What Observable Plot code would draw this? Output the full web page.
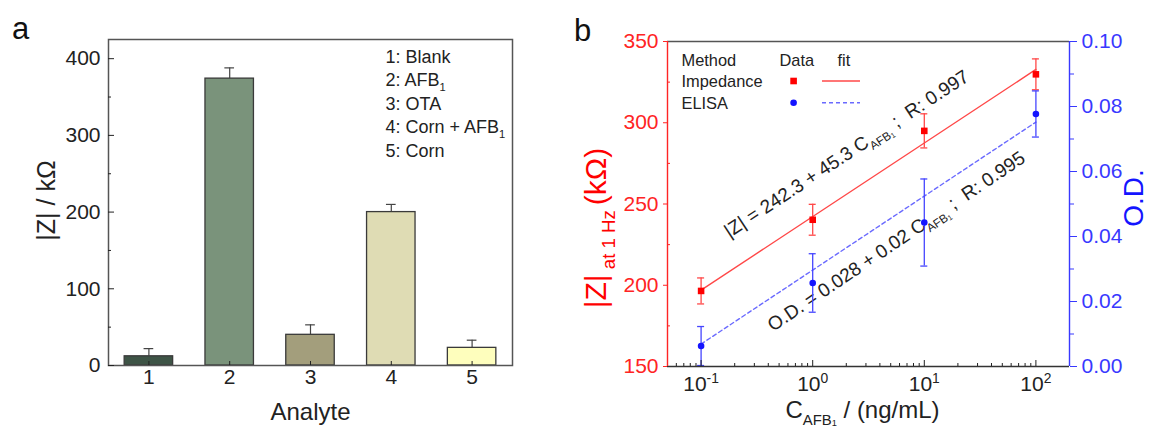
<!DOCTYPE html>
<html>
<head>
<meta charset="utf-8">
<script src="https://cdn.jsdelivr.net/npm/d3@7"></script>
<script src="https://cdn.jsdelivr.net/npm/@observablehq/plot@0.6"></script>
<style>
  html, body { margin: 0; padding: 0; background: #fff; }
  #wrap { display: flex; width: 1151px; height: 428px; overflow: hidden; }
  #wrap svg { flex: none; overflow: visible; }
</style>
</head>
<body>
<div id="wrap"></div>
<script>
// ---------- Panel a data ----------
const analytes = [1, 2, 3, 4, 5];
const analyteNames = ["1: Blank", "2: AFB_{1}", "3: OTA", "4: Corn + AFB_{1}", "5: Corn"];
const impedanceA = [12, 374, 40, 200, 23];
const errorA = [10, 14, 13, 10, 10];
const barColors = ["#3e5446", "#7a937b", "#a39e7c", "#dfdcb4", "#fefebd"];
const yTicksA = [0, 100, 200, 300, 400];
const yMinorA = [50, 150, 250, 350];
const yDomainA = [0, 425];
const xLabelA = "Analyte";
const yLabelA = "|Z| / kΩ";

// ---------- Panel b data ----------
const conc = [0.1, 1, 10, 100];
const zImp = [196.5, 240.3, 295, 329.8];
const zErr = [8, 9.5, 10.5, 9.5];
const od = [0.0063, 0.0257, 0.0443, 0.0777];
const odErr = [0.006, 0.009, 0.0134, 0.0071];
const fitConc = [0.1, 100];
const fitZ = [197.0, 332.8];
const fitOD = [0.0069, 0.0752];
const xTicksB = [0.1, 1, 10, 100];
const zTicks = [150, 200, 250, 300, 350];
const zMinor = [175, 225, 275, 325];
const odTicks = [0, 0.02, 0.04, 0.06, 0.08, 0.10];
const odMinor = [0.01, 0.03, 0.05, 0.07, 0.09];
const xDomainB = [0.05, 200];
const zDomain = [150, 350];
const odDomain = [0, 0.10];
const xLabelB = "C_{AFB_{1}} / (ng/mL)";
const yLabelB = "|Z|_{ at 1 Hz }(kΩ)";
const y2LabelB = "O.D.";
const eq1 = "|Z| = 242.3 + 45.3 C_{AFB_{1}} ;  R: 0.997";
const eq2 = "O.D. = 0.028 + 0.02 C_{AFB_{1}} ;  R: 0.995";
const legendHeader = ["Method", "Data", "fit"];
const legendMethods = ["Impedance", "ELISA"];

const FONT = '"Liberation Sans", Arial, Helvetica, sans-serif';
const RED = "#ff0000", RED_LINE = "#ff4848", RED_AX = "#ff2424";
const BLUE = "#1414ff", BLUE_LINE = "#6a6aff", BLUE_ERR = "#4646ff", BLUE_AX = "#3838ff";

// map O.D. onto the |Z| scale (secondary axis)
const zOf = v => zDomain[0] + (v - odDomain[0]) * (zDomain[1] - zDomain[0]) / (odDomain[1] - odDomain[0]);
const odOf = z => odDomain[0] + (z - zDomain[0]) * (odDomain[1] - odDomain[0]) / (zDomain[1] - zDomain[0]);

// ---------- Panel a ----------
const tableA = analytes.map((c, i) => ({c, v: impedanceA[i], e: errorA[i], fill: barColors[i]}));
const halfBar = 0.3, halfCapA = 0.06;

const plotA = Plot.plot({
  width: 570, height: 428,
  marginLeft: 108, marginRight: 58, marginTop: 39, marginBottom: 63,
  style: {fontFamily: FONT, fontSize: "21px", background: "white", color: "#222", overflow: "visible"},
  x: {type: "linear", domain: [0.5, 5.5]},
  y: {domain: yDomainA},
  color: {type: "identity"},
  marks: [
    Plot.ruleX(tableA, {x: "c", y1: "v", y2: d => d.v + d.e, stroke: "#444", strokeWidth: 1.2}),
    Plot.ruleY(tableA, {x1: d => d.c - halfCapA, x2: d => d.c + halfCapA, y: d => d.v + d.e, stroke: "#444", strokeWidth: 1.2}),
    Plot.rectY(tableA, {x1: d => d.c - halfBar, x2: d => d.c + halfBar, y1: 0, y2: "v", fill: "fill", stroke: "#3a3a3a", strokeWidth: 1.3}),
    Plot.frame({stroke: "#555", strokeWidth: 1.5}),
    Plot.axisY({ticks: yTicksA, tickSize: -6, tickPadding: 14, label: null, color: "#222"}),
    Plot.axisY({ticks: yMinorA, tickSize: -3, tickFormat: () => "", label: null, color: "#222"}),
    Plot.axisX({ticks: analytes, tickSize: -4, tickPadding: 8, tickFormat: d => String(d), label: null, color: "#222"}),
    Plot.text([xLabelA], {text: d => d, frameAnchor: "bottom", textAnchor: "middle", lineAnchor: "middle", dy: 47, fontSize: 24, fill: "#222"}),
    Plot.text([yLabelA], {text: d => d, frameAnchor: "left", textAnchor: "middle", lineAnchor: "middle", dx: -62, dy: -2, rotate: -90, fontSize: 25, fill: "#222"}),
    Plot.text(["a"], {text: d => d, frameAnchor: "top-left", textAnchor: "middle", lineAnchor: "middle", dx: -88, dy: -10, fontSize: 31, fill: "#111"}),
    ...analyteNames.map((t, i) => Plot.text([t], {text: d => d, frameAnchor: "top-left", lineAnchor: "middle", dx: 277, dy: 17.7 + i * 23.5, textAnchor: "start", fontSize: 18, fill: "#222"}))
  ]
});

// ---------- Panel b ----------
const tableB = conc.map((c, i) => ({c, z: zImp[i], ze: zErr[i], od: od[i], oe: odErr[i]}));
const fitTable = fitConc.map((c, i) => ({c, z: fitZ[i], od: fitOD[i]}));
const capK = 1.075;
const xMinorB = [];
for (const d of [0.01, 0.1, 1, 10, 100]) for (let k = 2; k <= 9; k++) {
  const v = d * k;
  if (v > xDomainB[0] && v < xDomainB[1]) xMinorB.push(v);
}

const plotB = Plot.plot({
  width: 581, height: 428,
  marginLeft: 97, marginRight: 82, marginTop: 41, marginBottom: 62,
  style: {fontFamily: FONT, fontSize: "21px", background: "white", color: "#222", overflow: "visible"},
  x: {type: "log", domain: xDomainB},
  y: {domain: zDomain},
  marks: [
    Plot.line(fitTable, {x: "c", y: "z", stroke: RED_LINE, strokeWidth: 1.4}),
    Plot.line(fitTable, {x: "c", y: d => zOf(d.od), stroke: BLUE_LINE, strokeWidth: 1.4, strokeDasharray: "4,3"}),
    Plot.text([eq1], {text: d => d, x: 2.01, y: 280.8, rotate: -33.3, textAnchor: "middle", fontSize: 19, fill: "#222"}),
    Plot.text([eq2], {text: d => d, x: 5.62, y: 226.9, rotate: -34, textAnchor: "middle", fontSize: 19, fill: "#222"}),
    // impedance error bars
    Plot.ruleX(tableB, {x: "c", y1: d => d.z - d.ze, y2: d => d.z + d.ze, stroke: RED_LINE, strokeWidth: 1.3}),
    Plot.ruleY(tableB, {x1: d => d.c / capK, x2: d => d.c * capK, y: d => d.z + d.ze, stroke: RED_LINE, strokeWidth: 1.3}),
    Plot.ruleY(tableB, {x1: d => d.c / capK, x2: d => d.c * capK, y: d => d.z - d.ze, stroke: RED_LINE, strokeWidth: 1.3}),
    // ELISA error bars
    Plot.ruleX(tableB, {x: "c", y1: d => zOf(Math.max(odDomain[0], d.od - d.oe)), y2: d => zOf(d.od + d.oe), stroke: BLUE_ERR, strokeWidth: 1.3}),
    Plot.ruleY(tableB, {x1: d => d.c / capK, x2: d => d.c * capK, y: d => zOf(d.od + d.oe), stroke: BLUE_ERR, strokeWidth: 1.3}),
    Plot.ruleY(tableB, {x1: d => d.c / capK, x2: d => d.c * capK, y: d => zOf(d.od - d.oe), stroke: BLUE_ERR, strokeWidth: 1.3}),
    Plot.dot(tableB, {x: "c", y: "z", symbol: "square", r: 3.7, fill: RED}),
    Plot.dot(tableB, {x: "c", y: d => zOf(d.od), r: 3.3, fill: BLUE}),
    // frame sides
    Plot.ruleY([zDomain[1]], {stroke: "#555", strokeWidth: 1.6}),
    Plot.ruleY([zDomain[0]], {stroke: "#333", strokeWidth: 1.4}),
    Plot.ruleX([xDomainB[0]], {stroke: RED_AX, strokeWidth: 1.4}),
    Plot.ruleX([xDomainB[1]], {stroke: BLUE_AX, strokeWidth: 1.4}),
    // axes
    Plot.axisY({anchor: "left", ticks: zTicks, tickSize: 4, tickPadding: 5, label: null, color: RED_AX}),
    Plot.axisY({anchor: "left", ticks: zMinor, tickSize: -3, tickFormat: () => "", label: null, color: RED_AX}),
    Plot.axisY({anchor: "right", ticks: odTicks.map(zOf), tickSize: 7, tickPadding: 5, tickFormat: z => odOf(z).toFixed(2), label: null, color: BLUE_AX}),
    Plot.axisY({anchor: "right", ticks: odMinor.map(zOf), tickSize: 4, tickFormat: () => "", label: null, color: BLUE_AX}),
    Plot.axisX({ticks: xTicksB, tickSize: -6, tickPadding: 16, tickFormat: d => `10^{${Math.round(Math.log10(d))}}`, label: null, color: "#222"}),
    Plot.axisX({ticks: xMinorB, tickSize: -3, tickFormat: () => "", label: null, color: "#222"}),
    // axis titles
    Plot.text([xLabelB], {text: d => d, frameAnchor: "bottom", textAnchor: "middle", lineAnchor: "middle", dx: -6, dy: 44, fontSize: 24, fill: "#222"}),
    Plot.text([yLabelB], {text: d => d, frameAnchor: "left", textAnchor: "middle", lineAnchor: "middle", dx: -71, dy: 24, rotate: -90, fontSize: 30, fill: RED}),
    Plot.text([y2LabelB], {text: d => d, frameAnchor: "right", textAnchor: "middle", lineAnchor: "middle", dx: 65, dy: -6, rotate: -90, fontSize: 28, fill: BLUE}),
    Plot.text(["b"], {text: d => d, frameAnchor: "top-left", textAnchor: "middle", lineAnchor: "middle", dx: -85, dy: -10, fontSize: 31, fill: "#111"}),
    // legend text
    ...legendHeader.map((t, i) => Plot.text([t], {text: d => d, frameAnchor: "top-left", lineAnchor: "middle", dx: [14, 112, 170][i], dy: 19, textAnchor: "start", fontSize: 16.4, fill: "#222"})),
    ...legendMethods.map((t, i) => Plot.text([t], {text: d => d, frameAnchor: "top-left", lineAnchor: "middle", dx: 14, dy: 40.5 + i * 21.7, textAnchor: "start", fontSize: 16.4, fill: "#222"}))
  ]
});

const wrap = document.getElementById("wrap");
wrap.appendChild(plotA);
wrap.appendChild(plotB);

// legend swatches for panel b (legend only, not data)
{
  const svg = d3.select(plotB);
  const left = 97, top = 41;
  const g = svg.append("g").attr("transform", `translate(${left},${top})`);
  const rows = [
    {dy: 40, fill: RED, line: RED_LINE, dash: null, sym: "square"},
    {dy: 61.7, fill: BLUE, line: BLUE_LINE, dash: "4,3", sym: "circle"}
  ];
  rows.forEach(r => {
    if (r.sym === "square") g.append("rect").attr("x", 126.6 - 3.3).attr("y", r.dy - 3.3).attr("width", 6.6).attr("height", 6.6).attr("fill", r.fill);
    else g.append("circle").attr("cx", 126.6).attr("cy", r.dy).attr("r", 3.3).attr("fill", r.fill);
    g.append("line").attr("x1", 155).attr("x2", 193).attr("y1", r.dy).attr("y2", r.dy)
      .attr("stroke", r.line).attr("stroke-width", 1.4).attr("stroke-dasharray", r.dash);
  });
}

// rich text: _{sub} and ^{sup}
function parseRich(s) {
  const out = [];
  const stack = [{y: 0, k: 1}];
  let buf = "";
  const flush = () => { if (buf) { const c = stack[stack.length - 1]; out.push({t: buf, y: c.y, k: c.k}); buf = ""; } };
  for (let i = 0; i < s.length; i++) {
    const ch = s[i];
    if ((ch === "_" || ch === "^") && s[i + 1] === "{") {
      flush();
      const c = stack[stack.length - 1];
      const shift = ch === "_" ? (c.k === 1 ? 0.28 : 0.1) : -0.42;
      stack.push({y: c.y + shift * c.k, k: c.k * (ch === "_" ? 0.62 : 0.66)});
      i++;
    } else if (ch === "}" && stack.length > 1) {
      flush(); stack.pop();
    } else buf += ch;
  }
  flush();
  return out;
}
function richify(svg) {
  svg.querySelectorAll("text").forEach(el => {
    const targets = el.querySelector("tspan") ? [...el.querySelectorAll("tspan")] : [el];
    let changed = false;
    for (const t of targets) {
      const s = t.textContent;
      if (!/[_^]\{/.test(s)) continue;
      changed = true;
      const fs = parseFloat(getComputedStyle(t).fontSize);
      const segs = parseRich(s);
      t.textContent = "";
      let prev = 0;
      for (const g of segs) {
        const ts = document.createElementNS("http://www.w3.org/2000/svg", "tspan");
        ts.setAttribute("font-size", (g.k * fs).toFixed(2));
        const dy = (g.y - prev) * fs;
        if (Math.abs(dy) > 1e-6) ts.setAttribute("dy", dy.toFixed(2));
        prev = g.y;
        ts.textContent = g.t;
        t.appendChild(ts);
      }
    }
    if (changed && targets.length === 1) {
      const anchor = getComputedStyle(el).textAnchor;
      if (anchor === "middle" || anchor === "end") {
        const len = el.getComputedTextLength();
        const x0 = parseFloat(el.getAttribute("x") || "0");
        el.setAttribute("x", (x0 - (anchor === "middle" ? len / 2 : len)).toFixed(2));
        el.setAttribute("text-anchor", "start");
        el.style.textAnchor = "start";
      }
    }
  });
}
richify(plotA);
richify(plotB);
</script>
</body>
</html>
